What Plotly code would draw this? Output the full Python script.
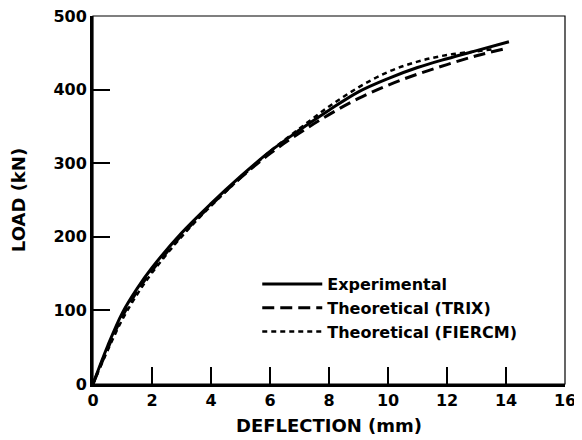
import plotly.graph_objects as go

# Experimental
exp_x = [0, 0.5, 1, 1.5, 2, 3, 4, 5, 6, 7, 8, 9, 10, 11, 12, 13, 14.1]
exp_y = [0, 52, 97, 130, 158, 205, 245, 282, 316, 345, 372, 397, 415, 430, 442, 453, 465]
# Theoretical (TRIX)
trix_x = [0, 0.5, 1, 1.5, 2, 3, 4, 5, 6, 7, 8, 9, 10, 11, 12, 13, 13.9]
trix_y = [0, 48, 92, 126, 154, 202, 243, 280, 313, 341, 366, 388, 406, 421, 434, 446, 455]
# Theoretical (FIERCM)
fier_x = [0, 0.5, 1, 1.5, 2, 3, 4, 5, 6, 7, 8, 9, 10, 11, 12, 13, 13.6]
fier_y = [0, 46, 88, 122, 151, 200, 242, 280, 316, 347, 377, 403, 424, 438, 447, 452, 455]

x_ticks = [0, 2, 4, 6, 8, 10, 12, 14, 16]
y_ticks = [0, 100, 200, 300, 400, 500]

font = "DejaVu Sans, sans-serif"

fig = go.Figure()
fig.add_trace(go.Scatter(x=exp_x, y=exp_y, mode="lines", name="<b>Experimental</b>",
                         line=dict(color="black", width=3, shape="spline")))
fig.add_trace(go.Scatter(x=trix_x, y=trix_y, mode="lines", name="<b>Theoretical (TRIX)</b>",
                         line=dict(color="black", width=3, dash="12px,6px", shape="spline")))
fig.add_trace(go.Scatter(x=fier_x, y=fier_y, mode="lines", name="<b>Theoretical (FIERCM)</b>",
                         line=dict(color="black", width=2.5, dash="5px,4px", shape="spline")))

fig.update_layout(
    width=574, height=432,
    margin=dict(l=85, r=17, t=8, b=56),
    paper_bgcolor="white", plot_bgcolor="white",
    font=dict(family=font, color="black", size=16),
    showlegend=True,
    legend=dict(x=0.348, y=0.318, xanchor="left", yanchor="top",
                bgcolor="rgba(0,0,0,0)", itemwidth=60,
                font=dict(family=font, size=16, color="black"),
                tracegroupgap=0),
    xaxis=dict(range=[0, 16], tickvals=x_ticks, ticktext=[f"<b>{v}</b>" for v in x_ticks],
               ticks="inside", ticklen=17, tickwidth=1.5, tickcolor="black",
               showline=True, linewidth=3, linecolor="black", mirror=False,
               showgrid=False, zeroline=False, automargin=False,
               ticklabeloverflow="allow",
               tickfont=dict(size=16),
               title=dict(text="<b>DEFLECTION (mm)</b>", font=dict(size=18), standoff=11)),
    yaxis=dict(range=[0, 500], tickvals=y_ticks, ticktext=[f"<b>{v}</b>" for v in y_ticks],
               ticks="inside", ticklen=17, tickwidth=1.5, tickcolor="black",
               showline=True, linewidth=3, linecolor="black", mirror=False,
               showgrid=False, zeroline=False, automargin=False,
               ticklabeloverflow="allow",
               tickfont=dict(size=16),
               title=dict(text="<b>LOAD (kN)</b>", font=dict(size=18), standoff=26)),
)
fig.add_shape(type="rect", xref="paper", yref="paper", x0=0, y0=0, x1=1, y1=1,
              line=dict(color="black", width=1.2), layer="above")

fig.write_html("out.html")
